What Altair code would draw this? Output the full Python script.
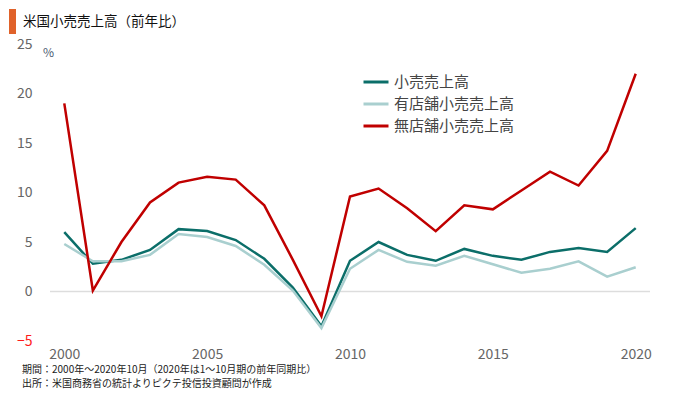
import altair as alt
import pandas as pd

years = list(range(2000, 2021))
total = [6.0, 2.8, 3.2, 4.2, 6.3, 6.1, 5.2, 3.3, 0.4, -3.5, 3.1, 5.0, 3.7, 3.1, 4.3, 3.6, 3.2, 4.0, 4.4, 4.0, 6.4]
store = [4.8, 3.05, 3.05, 3.7, 5.8, 5.5, 4.6, 2.7, 0.1, -3.7, 2.3, 4.2, 3.0, 2.6, 3.6, 2.75, 1.9, 2.3, 3.05, 1.5, 2.45]
nonstore = [19.0, 0.1, 5.0, 9.0, 11.0, 11.6, 11.3, 8.7, 3.2, -2.5, 9.6, 10.4, 8.4, 6.1, 8.7, 8.3, 10.2, 12.1, 10.7, 14.2, 22.0]

series_names = ["小売売上高", "有店舗小売売上高", "無店舗小売売上高"]
series_colors = ["#0b6e69", "#a9cfcf", "#c00000"]

title_text = "米国小売売上高（前年比）"
unit_text = "%"
note1 = "期間：2000年～2020年10月（2020年は1～10月期の前年同期比）"
note2 = "出所：米国商務省の統計よりピクテ投信投資顧問が作成"

FONT = "Noto Sans CJK JP"

rows = []
for name, vals in zip(series_names, [total, store, nonstore]):
    for y, v in zip(years, vals):
        rows.append({"year": y, "value": v, "series": name})
df = pd.DataFrame(rows)

y_scale = alt.Scale(domain=[-5, 25], nice=False)
y_axis = alt.Axis(values=[-5, 0, 5, 10, 15, 20, 25], title=None, domain=False,
                  ticks=False, grid=False, labelFontSize=14, labelFont=FONT,
                  labelColor=alt.expr("datum.value < 0 ? '#ff1a1a' : '#666666'"),
                  labelPadding=18)

x_enc = alt.X("year:Q", scale=alt.Scale(domain=[1999.5, 2020.5], nice=False, zero=False),
              axis=alt.Axis(values=[2000, 2005, 2010, 2015, 2020], format="d", title=None,
                            domain=False, ticks=False, grid=False, labelFontSize=14,
                            labelColor="#666666", labelFont=FONT, labelPadding=6))

lines = alt.Chart(df).mark_line(strokeWidth=2.5).encode(
    x=x_enc,
    y=alt.Y("value:Q", scale=y_scale, axis=y_axis),
    color=alt.Color("series:N", scale=alt.Scale(domain=series_names, range=series_colors),
                    sort=series_names,
                    legend=alt.Legend(title=None, orient="none", legendX=312, legendY=24,
                                      symbolType="stroke", symbolSize=625, symbolStrokeWidth=3,
                                      labelFontSize=15, labelFont=FONT, labelColor="#444444",
                                      rowPadding=-1, labelOffset=4)),
    detail="series:N",
)

zero = alt.Chart(pd.DataFrame({"value": [0]})).mark_rule(color="#dddddd", strokeWidth=1.5).encode(
    y=alt.Y("value:Q", scale=y_scale, axis=y_axis)
)

bar = alt.Chart(pd.DataFrame({"t": [title_text]})).mark_rect(color="#e0622a").encode(
    x=alt.value(-41), x2=alt.value(-34), y=alt.value(-35), y2=alt.value(-10)
)
title = alt.Chart(pd.DataFrame({"t": [title_text]})).mark_text(
    align="left", baseline="middle", fontSize=13.5, font=FONT, color="#111111"
).encode(x=alt.value(-27), y=alt.value(-22), text="t:N")
unit = alt.Chart(pd.DataFrame({"t": [unit_text]})).mark_text(
    align="left", baseline="middle", fontSize=12, font=FONT, color="#4a5a70"
).encode(x=alt.value(-7), y=alt.value(9), text="t:N")
notes1 = alt.Chart(pd.DataFrame({"t": [note1]})).mark_text(
    align="left", baseline="middle", fontSize=10, font=FONT, color="#222222"
).encode(x=alt.value(-28), y=alt.value(326), text="t:N")
notes2 = alt.Chart(pd.DataFrame({"t": [note2]})).mark_text(
    align="left", baseline="middle", fontSize=10, font=FONT, color="#222222"
).encode(x=alt.value(-28), y=alt.value(340), text="t:N")

chart = alt.layer(zero, lines, bar, title, unit, notes1, notes2).properties(
    width=600, height=297,
    autosize=alt.AutoSizeParams(type="none"),
    padding={"left": 42, "top": 36, "right": 22, "bottom": 49},
).configure_view(stroke=None).configure_axis(domain=False, ticks=False, grid=False)

chart.save("out.html", embed_options={"renderer": "svg", "actions": False})
